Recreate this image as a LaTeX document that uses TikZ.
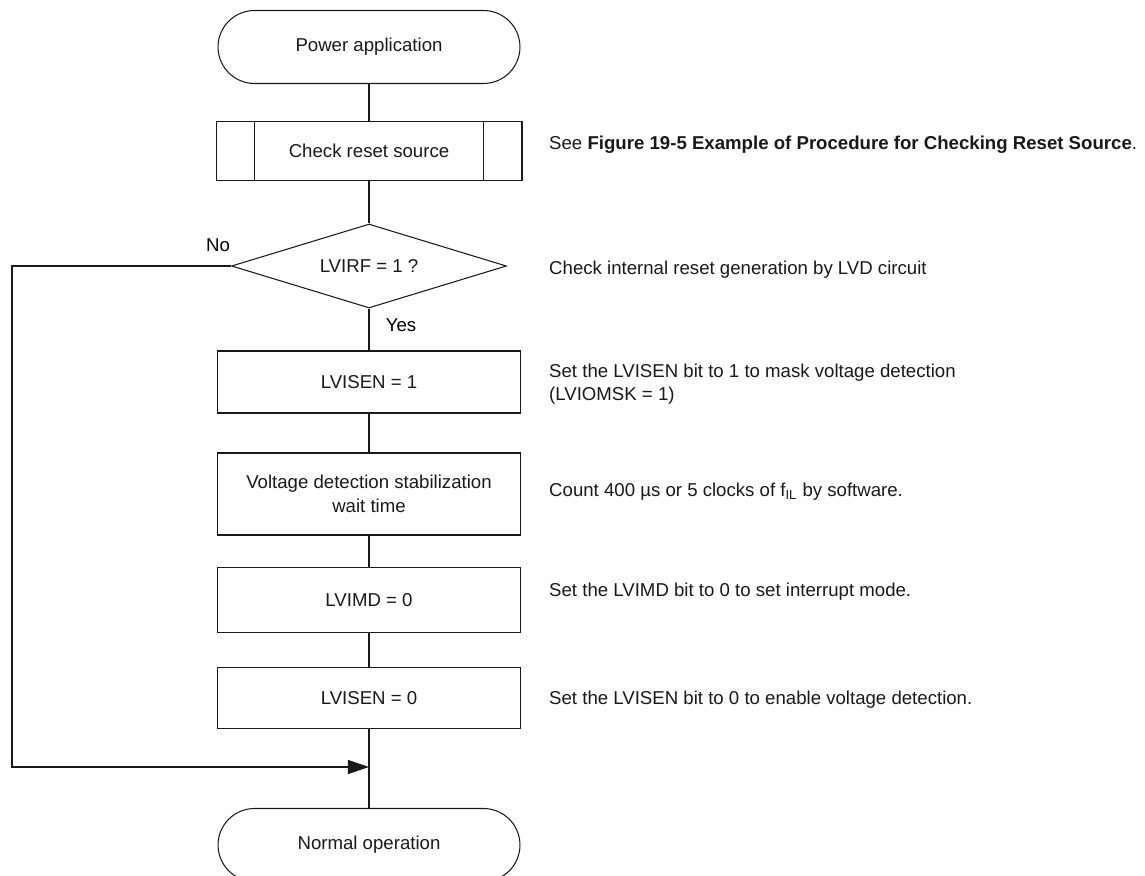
\documentclass[tikz,border=0pt]{standalone}
\usepackage{fontspec}
\setmainfont{Liberation Sans}
\usetikzlibrary{arrows.meta,shapes.geometric}

\begin{document}
\begin{tikzpicture}[x=0.02cm, y=-0.02cm,
    font=\fontsize{10.6}{14}\selectfont,
    base/.style={draw=black!90, line width=0.6pt, align=center, text=black!90},
    term/.style={base, rounded corners=0.73cm, minimum width=6.04cm, minimum height=1.46cm},
    proc/.style={base, minimum width=6.06cm},
    decision/.style={base, diamond, aspect=3.3, inner sep=0pt, minimum width=5.5cm, minimum height=1.68cm},
    note/.style={anchor=west, align=left, text=black!90, font=\fontsize{10.6}{13}\selectfont},
    line/.style={draw=black!90, line width=0.6pt},
    arr/.style={line, -{Triangle[length=12pt, width=8pt]}}
]
\clip (0,0) rectangle (1145,875);

\node[term] (start) at (369,47) {Power application};
\node[proc, minimum width=6.12cm, minimum height=1.18cm] (chk) at (369,151) {Check reset source};
\draw[line] ([xshift=0.78cm]chk.north west) -- ([xshift=0.78cm]chk.south west);
\draw[line] ([xshift=-0.78cm]chk.north east) -- ([xshift=-0.78cm]chk.south east);
\node[decision] (dec) at (369,266) {LVIRF = 1 ?};
\node[proc, minimum height=1.24cm] (lvisen1) at (369,382) {LVISEN = 1};
\node[proc, minimum height=1.64cm] (wait) at (369,494) {Voltage detection stabilization\\wait time};
\node[proc, minimum height=1.3cm] (lvimd) at (369,600) {LVIMD = 0};
\node[proc, minimum height=1.22cm] (lvisen0) at (369,698) {LVISEN = 0};
\node[term] (end) at (369,845) {Normal operation};
\coordinate (join) at (369,767);
\coordinate (nocorner) at (12,767);

\node (no) at (218,245) {No};
\node (yes) at (401,325) {Yes};

\node[note] (n1) at (543,145) {See \textbf{Figure 19-5 Example of Procedure for Checking Reset Source}.};
\node[note] (n2) at (543,270) {Check internal reset generation by LVD circuit};
\node[note] (n3) at (543,384) {Set the LVISEN bit to 1 to mask voltage detection\\(LVIOMSK = 1)};
\node[note] (n4) at (543,492) {Count 400 µs or 5 clocks of f\textsubscript{IL} by software.};
\node[note] (n5) at (543,592) {Set the LVIMD bit to 0 to set interrupt mode.};
\node[note] (n6) at (543,700) {Set the LVISEN bit to 0 to enable voltage detection.};

\draw[line] (start) -- (chk);
\draw[line] (chk) -- (dec);
\draw[line] (dec) -- (lvisen1);
\draw[line] (lvisen1) -- (wait);
\draw[line] (wait) -- (lvimd);
\draw[line] (lvimd) -- (lvisen0);
\draw[line] (lvisen0) -- (end);
\draw[arr] (dec.west) -| (nocorner) -- (join);
\end{tikzpicture}
\end{document}
